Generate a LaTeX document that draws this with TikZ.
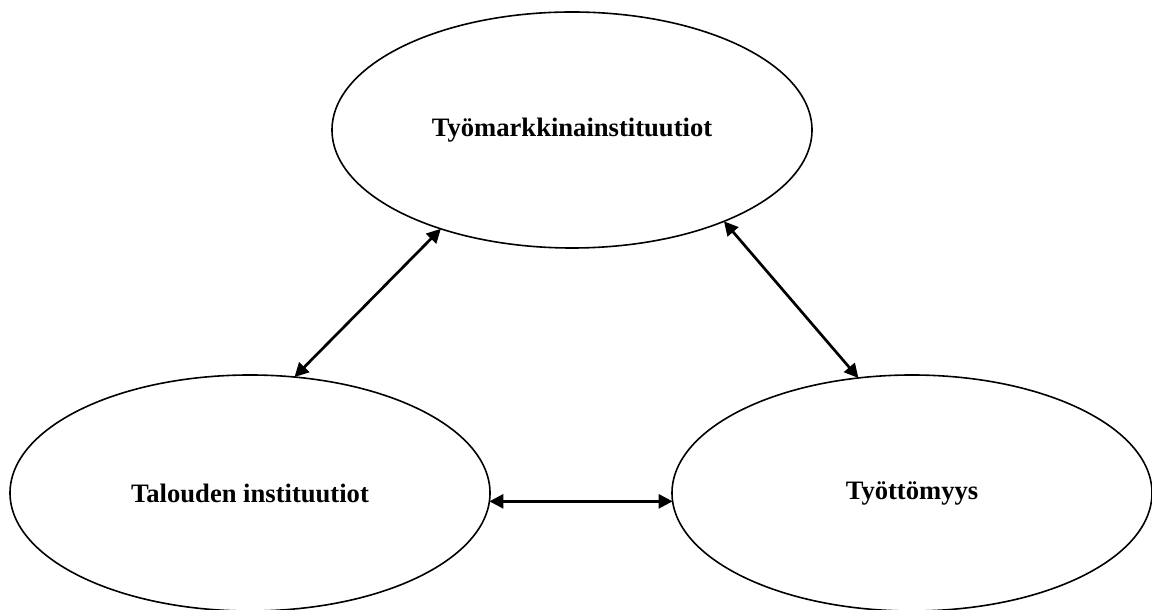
\documentclass[tikz,border=0pt]{standalone}
\usepackage{fontspec}
\setmainfont{Liberation Serif}
\usepackage{tikz}
\usetikzlibrary{shapes.geometric,arrows.meta}
\begin{document}
\begin{tikzpicture}[x=0.5pt,y=0.5pt,instbox/.style={ellipse,draw,line width=0.8pt,minimum width=240pt,minimum height=118pt,inner sep=0pt,outer sep=0pt,font=\fontsize{13.3}{16}\selectfont\bfseries},link/.style={{Triangle[length=7pt,width=7pt]}-{Triangle[length=7pt,width=7pt]},line width=1.35pt}]
\useasboundingbox (0,0) rectangle (1152,610);
\node[instbox] (tyomarkkina) at (572,480) {Työmarkkinainstituutiot};
\node[instbox] (talous) at (250,117) {Talouden instituutiot};
\node[instbox] (tyottomyys) at (912,117) {Työttömyys};
\draw[link] (talous.69.7) -- (tyomarkkina.217.1);
\draw[link] (tyomarkkina.329.3) -- (tyottomyys.115.6);
\draw[link] (talous.-2.2) -- (tyottomyys.182.2);
\end{tikzpicture}
\end{document}
